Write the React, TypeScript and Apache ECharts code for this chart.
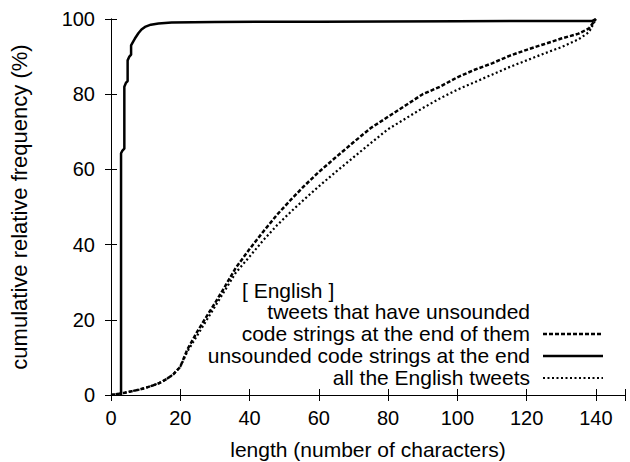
import React, { useEffect, useRef } from "react";
import * as echarts from "echarts";

const xTicks = [0, 20, 40, 60, 80, 100, 120, 140];
const yTicks = [0, 20, 40, 60, 80, 100];

const codesX = [0, 2, 4, 6, 8, 10, 12, 14, 16, 18, 20, 22, 25, 28, 30, 33, 36, 40, 44, 48, 52, 56, 60, 65, 70, 75, 80, 85, 90, 95, 100, 105, 110, 115, 120, 125, 130, 135, 138, 140];
const codesY = [0, 0.3, 0.6, 1.0, 1.4, 1.9, 2.5, 3.2, 4.2, 5.5, 7.5, 12, 17, 21.5, 24.4, 29, 33.8, 38.8, 43.5, 48, 52, 55.8, 59.3, 63.3, 67.2, 71, 74, 77, 80, 82, 84.5, 86.5, 88.2, 90.2, 91.8, 93.3, 94.8, 96.1, 97.5, 100];

const allX = [0, 2, 4, 6, 8, 10, 12, 14, 16, 18, 20, 22, 25, 28, 30, 33, 36, 40, 44, 48, 52, 56, 60, 65, 70, 75, 80, 85, 90, 95, 100, 105, 110, 115, 120, 125, 130, 135, 138, 140];
const allY = [0, 0.3, 0.6, 1.0, 1.4, 1.9, 2.5, 3.2, 4.2, 5.5, 7.5, 11.5, 16, 20.5, 23.5, 28, 32.5, 36.8, 41.2, 45.2, 48.8, 52.2, 55.5, 59.4, 63.2, 67, 70.7, 73.5, 76.3, 78.9, 81.2, 83.2, 85.2, 87.2, 89, 90.8, 92.5, 94.6, 96.5, 100];

const stringsX = [2.9, 2.9, 3.3, 3.85, 3.85, 4.3, 4.8, 4.8, 5.3, 5.8, 5.8, 6.4, 6.9, 7.9, 8.8, 9.8, 11.5, 13.7, 17.5, 30, 60, 100, 139, 140];
const stringsY = [0, 64.3, 65, 65.5, 82, 83, 83.5, 89, 90, 90.5, 93, 94, 94.8, 96.2, 97.2, 97.9, 98.5, 98.8, 99.1, 99.2, 99.3, 99.4, 99.5, 100];

const legendTitle = "[ English ]";
const legendLines = [
  "tweets that have unsounded",
  "code strings at the end of them",
  "unsounded code strings at the end",
  "all the English tweets",
];

const pairs = (xs: number[], ys: number[]) => xs.map((x, i) => [x, ys[i]]);

const FONT = "Liberation Sans, Arial, Helvetica, sans-serif";

export default function App() {
  const ref = useRef<HTMLDivElement>(null);
  useEffect(() => {
    if (!ref.current) return;
    const chart = echarts.init(ref.current, undefined, { renderer: "svg" });
    const tickStyle = { color: "#000", fontFamily: FONT, fontSize: 20 };
    const titleStyle = { color: "#000", fontFamily: FONT, fontSize: 22 };
    const baseX = {
      type: "value" as const,
      min: 0,
      max: 148.4,
      interval: 20,
      splitLine: { show: false },
      axisLine: { show: true, lineStyle: { color: "#000", width: 1 } },
      axisTick: { show: true, inside: true, length: 6, lineStyle: { color: "#000" } },
    };
    const baseY = {
      type: "value" as const,
      min: 0,
      max: 100,
      interval: 20,
      splitLine: { show: false },
      axisLine: { show: true, lineStyle: { color: "#000", width: 1 } },
      axisTick: { show: true, inside: true, length: 6, lineStyle: { color: "#000" } },
    };
    const titleY = 290;
    const lineY = [312, 334, 356, 378];
    const textRight = 530;
    const legendFont = `21px ${FONT}`;
    chart.setOption({
      animation: false,
      backgroundColor: "#fff",
      grid: {
        left: 111,
        right: 5,
        top: 19,
        bottom: 67,
        containLabel: false,
        outerBoundsMode: "none",
      },
      xAxis: [
        {
          ...baseX,
          position: "bottom",
          name: "length (number of characters)",
          nameLocation: "middle",
          nameGap: 44,
          nameTextStyle: { ...titleStyle, fontSize: 21 },
          axisLabel: {
            ...tickStyle,
            margin: 13,
            formatter: (v: number) => (xTicks.includes(v) ? String(v) : ""),
          },
        },
        { ...baseX, position: "top", axisLabel: { show: false } },
      ],
      yAxis: [
        {
          ...baseY,
          position: "left",
          name: "cumulative relative frequency (%)",
          nameLocation: "middle",
          nameGap: 81,
          nameTextStyle: { ...titleStyle },
          axisLabel: {
            ...tickStyle,
            margin: 16,
            formatter: (v: number) => (yTicks.includes(v) ? String(v) : ""),
          },
        },
        { ...baseY, position: "right", axisLabel: { show: false } },
      ],
      series: [
        {
          type: "line",
          name: legendLines[0] + " " + legendLines[1],
          data: pairs(codesX, codesY),
          showSymbol: false,
          lineStyle: { color: "#000", width: 2.5, type: [4, 2] },
          z: 3,
        },
        {
          type: "line",
          name: legendLines[2],
          data: pairs(stringsX, stringsY),
          showSymbol: false,
          lineStyle: { color: "#000", width: 2.5, type: "solid" },
          z: 4,
        },
        {
          type: "line",
          name: legendLines[3],
          data: pairs(allX, allY),
          showSymbol: false,
          lineStyle: { color: "#000", width: 2.2, type: [2, 2.5] },
          z: 2,
        },
      ],
      graphic: [
        {
          type: "text",
          x: 242,
          y: titleY,
          style: { text: legendTitle, fill: "#000", font: legendFont, verticalAlign: "middle" },
        },
        ...legendLines.map((t, i) => ({
          type: "text",
          x: textRight,
          y: lineY[i] - 1,
          style: {
            text: t,
            fill: "#000",
            font: legendFont,
            align: "right",
            verticalAlign: "middle",
          },
        })),
        {
          type: "line",
          shape: { x1: 543, y1: lineY[1], x2: 603, y2: lineY[1] },
          style: { stroke: "#000", lineWidth: 2.5, lineDash: [4, 2] },
        },
        {
          type: "line",
          shape: { x1: 543, y1: lineY[2], x2: 603, y2: lineY[2] },
          style: { stroke: "#000", lineWidth: 2.5 },
        },
        {
          type: "line",
          shape: { x1: 543, y1: lineY[3], x2: 603, y2: lineY[3] },
          style: { stroke: "#000", lineWidth: 2.2, lineDash: [2, 2.5] },
        },
      ],
    });
    return () => chart.dispose();
  }, []);
  return <div ref={ref} style={{ width: 630, height: 462, position: "absolute", left: 0, top: 0 }} />;
}
